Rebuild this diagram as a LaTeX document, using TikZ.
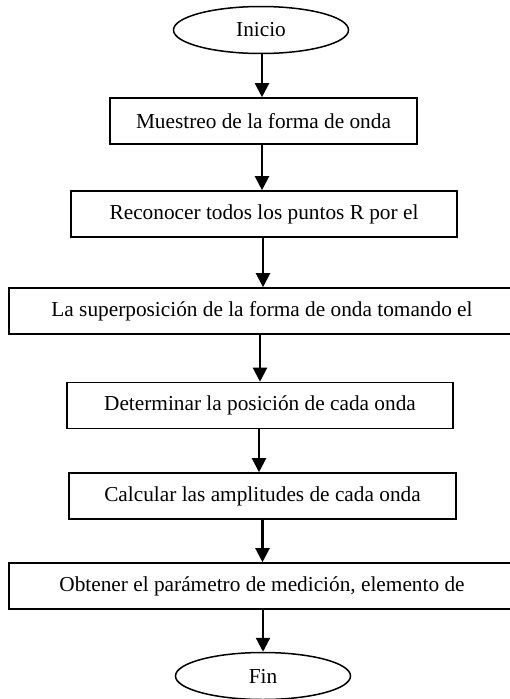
\documentclass[tikz,border=0pt]{standalone}
\usepackage{fontspec}
\setmainfont{Liberation Serif}
\usetikzlibrary{shapes.geometric,arrows.meta}
\begin{document}
\begin{tikzpicture}[x=1pt,y=-1pt,
  every node/.style={font=\fontsize{21.3}{25}\selectfont},
  term/.style={draw,line width=1.5pt,ellipse,minimum width=175pt,minimum height=47pt,inner sep=0pt},
  proc/.style={draw,line width=1.6pt,rectangle,minimum height=46pt,inner sep=0pt},
  flow/.style={line width=2.2pt,-{Triangle[width=14pt,length=14pt]}}]
\useasboundingbox (0,0) rectangle (510,699);
\clip (0,0) rectangle (510,699);
\node[term] (inicio) at (261,30) {Inicio};
\node[proc,minimum width=307pt] (b1) at (263.5,121) {Muestreo de la forma de onda};
\node[proc,minimum width=386pt] (b2) at (264,214) {Reconocer todos los puntos R por el};
\node[proc,minimum width=506pt] (b3) at (262,311) {La superposición de la forma de onda tomando el};
\node[proc,minimum width=386pt] (b4) at (260,405.5) {Determinar la posición de cada onda};
\node[proc,minimum width=387pt] (b5) at (262.5,496) {Calcular las amplitudes de cada onda};
\node[proc,minimum width=506pt] (b6) at (262,586) {Obtener el parámetro de medición, elemento de};
\node[term] (fin) at (263,676) {Fin};
\draw[flow] ([xshift=1pt]inicio.south) -- ([xshift=1pt]inicio.south |- b1.north);
\draw[flow] ([xshift=-1.5pt]b1.south) -- ([xshift=-1.5pt]b1.south |- b2.north);
\draw[flow] ([xshift=-1pt]b2.south) -- ([xshift=-1pt]b2.south |- b3.north);
\draw[flow] ([xshift=-2pt]b3.south) -- ([xshift=-2pt]b3.south |- b4.north);
\draw[flow] ([xshift=-1pt]b4.south) -- ([xshift=-1pt]b4.south |- b5.north);
\draw[flow] (b5.south) -- (b5.south |- b6.north);
\draw[flow] ([xshift=1pt]b6.south) -- ([xshift=1pt]b6.south |- fin.north);
\end{tikzpicture}
\end{document}
